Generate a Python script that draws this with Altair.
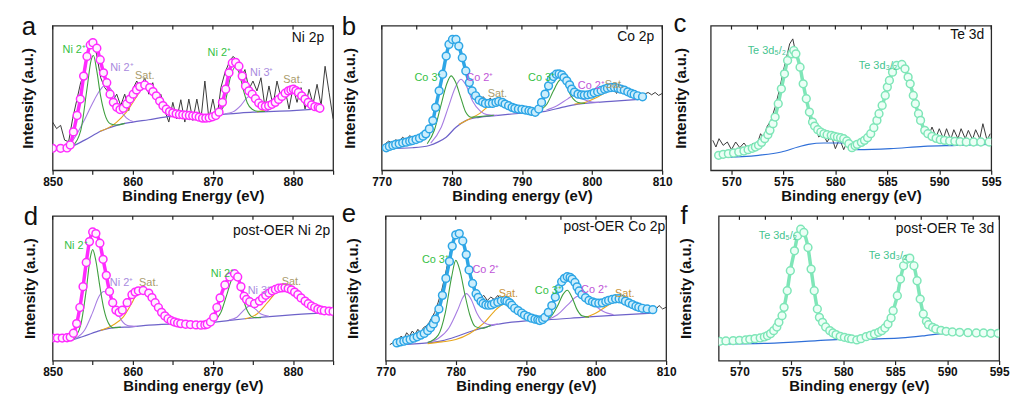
import altair as alt
import pandas as pd

FONT = "Liberation Sans"
W, H = 283, 146

NI_TICKS = [850, 855, 860, 865, 870, 875, 880, 885]
CO_TICKS = [770, 775, 780, 785, 790, 795, 800, 805, 810]
TE_TICKS = [570, 572.5, 575, 577.5, 580, 582.5, 585, 587.5, 590, 592.5, 595]

# ---------------- (a) Ni 2p ----------------
A_FIT_E = [850.0, 851.0, 851.8, 852.2, 852.6, 853.05, 853.46, 853.87, 854.29, 854.7, 855.03, 855.52, 855.94, 856.35, 856.76,
           857.17, 857.58, 858.0, 858.41, 858.82, 859.23, 859.65, 860.06, 860.47, 860.88, 861.5, 862.12, 862.53, 862.94, 863.36,
           863.77, 864.18, 864.59, 865.0, 865.42, 865.83, 866.24, 866.65, 867.07, 867.48, 867.89, 868.3, 868.71, 869.12, 869.54,
           869.95, 870.36, 870.77, 871.19, 871.6, 872.01, 872.42, 872.84, 873.25, 873.66, 874.07, 874.49, 874.9, 875.31, 875.72,
           876.13, 876.55, 876.96, 877.37, 877.78, 878.2, 878.61, 879.02, 879.43, 879.74, 880.05, 880.36, 880.67, 881.08, 881.49,
           881.9, 882.32, 882.73, 883.14, 883.35]
A_FIT_I = [67, 67, 68, 77, 117, 167, 217, 287, 347, 382, 389, 372, 337, 297, 267,
           232, 207, 192, 185, 189, 202, 217, 232, 245, 255, 260, 252, 240, 227, 211,
           197, 186, 179, 175, 172, 170, 169, 168, 167, 166, 165, 162, 159, 159, 160,
           163, 167, 177, 207, 247, 297, 327, 329, 317, 287, 257, 242, 232, 218, 205,
           197, 195, 197, 201, 207, 216, 225, 235, 242, 245, 247, 243, 237, 227, 217,
           207, 199, 194, 192, 189]
A_RAW_E = [850, 850.5, 851, 851.5, 852, 852.5, 853, 853.5, 854, 854.5, 855, 855.5, 856, 856.5, 857, 857.5, 858, 858.5,
           859, 859.5, 860, 860.5, 861, 861.5, 862, 862.5, 863, 863.5, 864, 864.5, 865, 865.5, 866, 866.5, 867, 867.5,
           868, 868.5, 869, 869.5, 870, 870.5, 871, 871.5, 872, 872.5, 873, 873.5, 874, 874.5, 875, 875.5, 876, 876.5,
           877, 877.5, 878, 878.5, 879, 879.5, 880, 880.5, 881, 881.5, 882, 882.5, 883, 883.5, 884, 884.5, 885]
A_RAW_I = [147, 127, 137, 92, 87, 157, 212, 267, 297, 367, 402, 352, 282, 252, 237, 212, 232, 197,
           232, 182, 247, 272, 252, 282, 232, 267, 207, 232, 182, 147, 207, 157, 215, 147, 217, 152,
           217, 152, 272, 157, 217, 157, 252, 297, 327, 347, 337, 282, 307, 247, 272, 242, 282, 192,
           257, 197, 272, 222, 247, 187, 252, 207, 252, 187, 247, 202, 262, 197, 317, 237, 157]
A_BASE_E = [850, 852, 854, 856, 858, 860, 862, 864, 866, 868, 870, 872, 875, 880, 883.3]
A_BASE_I = [62, 69, 92, 119, 137, 147, 154, 162, 167, 167, 169, 172, 177, 182, 187]
A_NI2A_E = [851.5, 852.5, 853.5, 854.3, 854.8, 855.1, 855.5, 856.0, 856.5, 857.2, 858.0, 859.0]
A_NI2A_I = [66, 75, 120, 250, 335, 350, 305, 225, 172, 142, 138, 143]
A_NI2B_E = [851.4, 852.5, 853.9, 855.0, 855.8, 856.5, 857.0, 857.6, 858.4, 859.2, 860.1]
A_NI2B_I = [66, 90, 150, 205, 240, 258, 255, 232, 185, 160, 148]
A_SAT1_E = [855.9, 857.0, 858.0, 859.2, 860.5, 861.5, 862.5, 863.4, 864.2, 865.4]
A_SAT1_I = [119, 130, 147, 177, 225, 258, 245, 207, 175, 166]
A_NI2C_E = [869.5, 870.5, 871.5, 872.2, 872.8, 873.3, 873.8, 874.3, 874.9, 875.6, 876.5]
A_NI2C_I = [168, 172, 205, 285, 315, 295, 245, 205, 186, 180, 179]
A_NI3_E = [871.5, 872.5, 873.5, 874.3, 874.8, 875.4, 876.2, 877.0]
A_NI3_I = [172, 178, 198, 222, 228, 216, 192, 181]
A_SAT2_E = [875.5, 877.0, 878.5, 879.5, 880.1, 880.8, 881.8, 883.0, 883.3]
A_SAT2_I = [178, 190, 222, 243, 247, 236, 210, 194, 190]

# ---------------- (b) Co 2p ----------------
B_FIT_E = [770.66, 771.1, 771.6, 772.0, 772.5, 773.0, 773.5, 774.0, 774.4, 774.9, 775.4, 775.9, 776.3, 776.8, 777.3,
           777.7, 778.2, 778.7, 779.2, 779.6, 780.1, 780.6, 781.0, 781.5, 782.0, 782.5, 782.9, 783.4, 783.9, 784.4,
           784.8, 785.3, 785.8, 786.3, 786.7, 787.2, 787.6, 788.1, 788.6, 789.0, 789.5, 790.0, 790.5, 791.0, 791.4,
           791.9, 792.4, 792.8, 793.3, 793.8, 794.2, 794.5, 794.9, 795.3, 795.7, 796.0, 796.4, 796.8, 797.1, 797.5,
           798.0, 798.5, 798.9, 799.4, 799.9, 800.3, 800.8, 801.3, 801.8, 802.2, 802.7, 803.2, 803.7, 804.1, 804.6,
           805.1, 805.6, 806.0, 806.5, 807.2]
B_FIT_I = [68, 72, 75, 78, 80, 83, 85, 88, 90, 93, 97, 103, 110, 125, 150,
           190, 240, 290, 345, 380, 395, 395, 375, 340, 300, 265, 240, 225, 212, 206,
           202, 202, 202, 205, 208, 205, 200, 195, 190, 187, 185, 184, 182, 180, 178,
           175, 185, 205, 230, 255, 275, 283, 290, 291, 288, 280, 270, 258, 245, 236,
           230, 228, 227, 228, 230, 234, 237, 241, 245, 248, 250, 250, 248, 245, 242,
           237, 232, 229, 225, 222]
B_RAW_E = [770.5, 771, 771.5, 772, 772.5, 773, 773.5, 774, 774.5, 775, 775.5, 776, 776.5, 777, 777.5, 778, 778.5, 779,
           779.5, 780, 780.5, 781, 781.5, 782, 782.5, 783, 783.5, 784, 784.5, 785, 785.5, 786, 786.5, 787, 787.5, 788,
           788.5, 789, 789.5, 790, 790.5, 791, 791.5, 792, 792.5, 793, 793.5, 794, 794.5, 795, 795.5, 796, 796.5, 797,
           797.5, 798, 798.5, 799, 799.5, 800, 800.5, 801, 801.5, 802, 802.5, 803, 803.5, 804, 804.5, 805, 805.5, 806,
           806.5, 807, 807.5, 808, 808.5, 809, 809.5, 810]
B_RAW_I = [80, 88, 82, 92, 88, 100, 90, 105, 95, 102, 95, 112, 120, 140, 170, 220, 270, 325,
           370, 390, 392, 375, 340, 300, 265, 240, 225, 215, 222, 208, 218, 202, 212, 200, 190, 195,
           185, 195, 182, 190, 178, 185, 175, 182, 190, 210, 235, 260, 280, 292, 295, 285, 270, 250,
           240, 232, 230, 228, 233, 230, 236, 240, 238, 245, 250, 250, 232, 248, 244, 240, 234, 232,
           228, 225, 230, 235, 228, 235, 226, 232]
B_BASE_E = [770.7, 774.4, 776.8, 778.0, 779.2, 780.6, 782.0, 783.9, 786.2, 788.6, 791.4, 793.3, 795.7, 798.0, 802.7, 807.2]
B_BASE_I = [65, 68, 75, 85, 100, 130, 150, 160, 165, 170, 175, 178, 190, 200, 208, 215]
B_CO3A_E = [776.5, 777.5, 778.5, 779.3, 779.9, 780.5, 781.3, 782.0, 782.8, 784.0, 786.0]
B_CO3A_I = [80, 120, 200, 262, 285, 268, 218, 175, 160, 162, 166]
B_CO2A_E = [777.0, 778.5, 779.5, 780.5, 781.3, 782.0, 783.0, 784.0, 785.0, 786.5]
B_CO2A_I = [82, 130, 190, 250, 275, 258, 208, 180, 168, 166]
B_SAT1_E = [781.0, 782.5, 784.0, 785.5, 786.7, 788.0, 789.5, 791.0]
B_SAT1_I = [138, 155, 172, 198, 210, 196, 182, 176]
B_CO3B_E = [792.0, 793.5, 794.5, 795.2, 795.6, 796.2, 797.0, 798.0, 799.0]
B_CO3B_I = [177, 198, 240, 268, 275, 260, 225, 205, 202]
B_CO2B_E = [793.5, 795.0, 796.5, 797.3, 798.0, 799.0, 800.0, 801.0]
B_CO2B_I = [182, 195, 215, 225, 222, 212, 206, 205]
B_SAT2_E = [797.5, 799.0, 800.5, 802.0, 803.2, 804.5, 806.0, 807.2]
B_SAT2_I = [200, 205, 218, 236, 246, 240, 230, 222]

# ---------------- (c) Te 3d ----------------
C_FIT_E = [568.76, 569.2, 569.7, 570.2, 570.7, 571.2, 571.6, 572.0, 572.3, 572.6, 572.9, 573.2, 573.5, 573.7, 574.0,
           574.2, 574.5, 574.8, 575.1, 575.4, 575.8, 576.0, 576.2, 576.6, 576.9, 577.2, 577.5, 577.8, 578.0, 578.3,
           578.6, 578.9, 579.2, 579.6, 579.9, 580.2, 580.5, 580.8, 581.1, 581.3, 581.6, 581.9, 582.1, 582.5, 582.8,
           583.1, 583.4, 583.7, 584.0, 584.2, 584.5, 584.8, 585.0, 585.2, 585.5, 585.9, 586.4, 586.7, 587.0, 587.2,
           587.5, 587.7, 588.0, 588.2, 588.6, 588.9, 589.3, 589.7, 590.1, 590.5, 591.0, 591.5, 592.0, 592.6, 593.3,
           594.0, 594.8]
C_FIT_I = [45, 48, 50, 52, 55, 58, 62, 66, 70, 75, 84, 95, 107, 120, 140,
           160, 200, 245, 290, 330, 350, 360, 350, 310, 260, 215, 175, 145, 133, 122,
           115, 110, 107, 105, 102, 100, 98, 95, 88, 80, 68, 74, 78, 84, 90,
           98, 110, 128, 150, 170, 195, 225, 250, 270, 295, 315, 318, 305, 280, 260,
           225, 200, 170, 150, 120, 110, 102, 96, 92, 90, 88, 87, 86, 85, 85,
           85, 85]
C_RAW_E = [568.2, 568.5, 568.8, 569.2, 569.6, 570.0, 570.4, 570.8, 571.2, 571.6, 572.0, 572.4, 572.8, 573.1, 573.4,
           573.8, 574.2, 574.6, 575.0, 575.3, 575.6, 575.9, 576.1, 576.4, 576.8, 577.2, 577.6, 578.0, 578.4, 578.8,
           579.2, 579.6, 580.0, 580.4, 580.8, 581.2, 581.6, 582.0, 582.5, 583.0, 583.5, 584.0, 584.5, 585.0, 585.5,
           586.0, 586.5, 587.0, 587.5, 588.0, 588.3, 588.6, 589.0, 589.3, 589.7, 590.0, 590.4, 590.7, 591.1, 591.4,
           591.8, 592.1, 592.5, 592.8, 593.2, 593.5, 593.9, 594.2, 594.6, 594.9]
C_RAW_I = [90, 70, 95, 75, 85, 62, 85, 68, 82, 65, 80, 72, 110, 95, 130,
           150, 190, 240, 300, 340, 380, 395, 365, 330, 280, 220, 140, 140, 100, 110,
           85, 105, 65, 95, 62, 90, 65, 80, 88, 95, 115, 155, 195, 250, 295,
           315, 320, 290, 225, 155, 150, 120, 105, 130, 100, 125, 95, 125, 92, 122,
           95, 125, 95, 120, 92, 122, 95, 140, 90, 110]
C_BASE_E = [568.8, 572.6, 574.8, 576.4, 577.4, 578.9, 581.2, 581.5, 582.1, 585.3, 588.5, 591.7, 594.8]
C_BASE_I = [38, 45, 55, 70, 78, 82, 82, 65, 62, 65, 72, 75, 78]

# ---------------- (d) post-OER Ni 2p ----------------
D_FIT_E = [850.0, 850.6, 851.2, 851.8, 852.2, 852.6, 853.0, 853.4, 853.8, 854.2, 854.6, 855.0, 855.4, 855.9, 856.3,
           856.7, 857.1, 857.5, 857.9, 858.3, 858.7, 859.3, 859.9, 860.3, 860.7, 861.3, 862.0, 862.4, 862.8, 863.2,
           863.6, 864.0, 864.4, 864.8, 865.2, 865.6, 866.0, 866.6, 867.2, 867.9, 868.5, 869.0, 869.3, 869.7, 870.1,
           870.5, 870.9, 871.5, 872.1, 872.7, 873.1, 873.5, 873.9, 874.2, 874.6, 875.2, 875.8, 876.2, 876.6, 877.0,
           877.4, 877.8, 878.2, 878.6, 879.0, 879.4, 879.8, 880.2, 880.6, 881.0, 881.5, 881.9, 882.3, 882.7, 883.1,
           883.5, 883.9, 884.5, 885.0]
D_FIT_I = [70, 70, 70, 71, 73, 85, 115, 165, 230, 305, 370, 400, 395, 365, 315,
           265, 215, 180, 157, 150, 157, 180, 205, 213, 217, 218, 210, 196, 180, 165,
           150, 139, 130, 124, 120, 117, 115, 113, 112, 111, 110, 111, 113, 120, 135,
           165, 195, 235, 260, 270, 260, 230, 200, 190, 183, 177, 185, 194, 203, 210,
           217, 221, 225, 226, 227, 224, 220, 213, 205, 195, 185, 177, 170, 165, 160,
           157, 155, 154, 153]
D_RAW_E = A_RAW_E
D_RAW_I = [70, 71, 72, 71, 74, 82, 118, 180, 270, 355, 398, 390, 350, 290, 225, 180, 155, 152,
           168, 195, 210, 225, 220, 216, 208, 190, 172, 150, 140, 138, 125, 130, 118, 125, 112, 118,
           108, 114, 105, 118, 130, 168, 200, 238, 258, 268, 262, 232, 200, 185, 178, 180, 190, 203,
           212, 218, 224, 228, 226, 222, 215, 206, 196, 188, 175, 170, 160, 162, 154, 155, 152]
D_BASE_E = [850, 851.8, 853.8, 855.9, 857.9, 859.9, 862, 866, 869.3, 872.1, 876.2, 880.2, 885]
D_BASE_I = [60, 62, 75, 93, 103, 105, 110, 115, 117, 125, 135, 143, 150]
D_NI2A_E = [852.5, 853.5, 854.2, 854.7, 855.0, 855.4, 855.9, 856.4, 857.0, 857.6, 858.5]
D_NI2A_I = [63, 110, 220, 320, 345, 310, 230, 160, 115, 102, 104]
D_NI2B_E = [852.8, 854.0, 855.0, 855.8, 856.4, 857.0, 857.8, 858.6, 859.5, 860.5]
D_NI2B_I = [68, 95, 150, 200, 215, 205, 165, 125, 108, 106]
D_SAT1_E = [856.0, 857.5, 858.8, 859.8, 860.6, 861.3, 862.0, 863.0, 864.0, 865.0, 866.0]
D_SAT1_I = [94, 110, 135, 175, 210, 218, 208, 170, 135, 118, 115]
D_NI2C_E = [870.0, 871.0, 871.8, 872.4, 872.8, 873.3, 873.8, 874.4, 875.0, 876.0]
D_NI2C_I = [120, 150, 210, 255, 262, 240, 190, 150, 135, 133]
D_NI3_E = [872.0, 873.0, 874.0, 874.6, 875.3, 876.0, 877.0]
D_NI3_I = [126, 135, 160, 170, 160, 145, 138]
D_SAT2_E = [874.0, 875.5, 876.8, 878.0, 879.2, 880.2, 881.5, 883.0, 885.0]
D_SAT2_I = [130, 145, 180, 215, 227, 215, 185, 162, 153]

# ---------------- (e) post-OER Co 2p ----------------
E_FIT_E = [771.6, 772.1, 772.6, 773.0, 773.5, 774.0, 774.5, 775.0, 775.5, 776.0, 776.4, 776.8, 777.1, 777.6, 778.1,
           778.6, 779.1, 779.5, 780.0, 780.5, 781.0, 781.5, 781.9, 782.4, 782.9, 783.2, 783.6, 783.9, 784.3, 784.7,
           785.1, 785.5, 786.0, 786.5, 787.0, 787.3, 787.7, 788.0, 788.4, 788.9, 789.4, 789.8, 790.3, 790.8, 791.3,
           791.7, 792.0, 792.4, 792.7, 793.2, 793.7, 794.2, 794.7, 795.1, 795.5, 795.9, 796.3, 796.6, 797.0, 797.3,
           797.6, 798.0, 798.5, 799.0, 799.5, 799.9, 800.4, 800.9, 801.4, 801.8, 802.3, 802.8, 803.3, 803.8, 804.2,
           804.7, 805.2, 805.7, 806.1, 806.6, 807.3, 808.1]
E_FIT_I = [52, 55, 57, 60, 62, 66, 70, 75, 80, 88, 97, 108, 122, 152, 192,
           242, 292, 337, 370, 374, 352, 312, 267, 227, 197, 186, 174, 168, 164, 163,
           164, 168, 172, 176, 177, 175, 170, 163, 154, 147, 140, 134, 129, 125, 122,
           120, 118, 121, 127, 142, 162, 187, 212, 232, 242, 247, 245, 240, 230, 217,
           205, 194, 185, 177, 173, 170, 169, 170, 174, 177, 180, 182, 182, 180, 175,
           170, 165, 160, 157, 154, 152, 150]
E_RAW_E = [770.6, 771.0, 771.4, 771.8, 772.2, 772.6, 773.0, 773.4, 773.8, 774.2, 774.6, 775.0, 775.4, 775.8, 776.2,
           776.6, 777.0, 777.5, 778.0, 778.5, 779.0, 779.5, 780.0, 780.5, 781.0, 781.5, 782.0, 782.5, 783.0, 783.5,
           784.0, 784.5, 785.0, 785.5, 786.0, 786.5, 787.0, 787.5, 788.0, 788.5, 789.0, 790.0, 791.0, 792.0, 792.5,
           793.0, 793.5, 794.0, 794.5, 795.0, 795.5, 796.0, 796.5, 797.0, 797.5, 798.0, 799.0, 800.0, 801.0, 801.5,
           802.0, 802.5, 803.0, 803.5, 804.0, 805.0, 806.0, 807.0, 808.0, 808.5, 809.0, 809.5, 810.0]
E_RAW_I = [47, 52, 54, 60, 72, 64, 82, 72, 87, 77, 92, 82, 97, 102, 112,
           127, 142, 172, 207, 252, 302, 342, 372, 377, 352, 312, 262, 232, 194, 182,
           192, 177, 187, 180, 192, 174, 182, 164, 167, 150, 144, 132, 124, 114, 120,
           137, 157, 177, 204, 224, 242, 250, 242, 227, 207, 192, 177, 170, 177, 170,
           184, 177, 192, 174, 187, 170, 160, 152, 157, 150, 162, 152, 157]
E_BASE_E = [771.6, 776.0, 778.0, 780.0, 782.0, 784.0, 786.0, 788.0, 790.0, 793.0, 798.0, 803.0, 808.1]
E_BASE_I = [47, 52, 58, 70, 85, 97, 107, 113, 117, 120, 127, 134, 140]
E_CO3A_E = [776.0, 777.5, 778.5, 779.4, 780.0, 780.6, 781.3, 782.0, 782.8, 783.8, 785.0]
E_CO3A_I = [53, 75, 140, 245, 295, 265, 195, 135, 100, 95, 104]
E_CO2A_E = [776.0, 777.5, 779.0, 780.3, 781.0, 781.5, 782.2, 783.0, 784.0, 785.0, 786.0]
E_CO2A_I = [54, 65, 95, 150, 185, 197, 180, 140, 112, 105, 108]
E_SAT1_E = [776.0, 778.0, 780.0, 782.0, 784.0, 785.5, 786.5, 787.2, 788.0, 789.0, 790.3, 791.5]
E_SAT1_I = [50, 55, 62, 80, 110, 145, 163, 167, 155, 135, 120, 118]
E_CO3B_E = [792.5, 793.5, 794.5, 795.3, 795.9, 796.6, 797.3, 798.0, 799.0]
E_CO3B_I = [120, 128, 160, 195, 207, 185, 150, 132, 128]
E_CO2B_E = [793.0, 794.5, 796.0, 797.2, 798.0, 799.0, 800.0, 801.0, 802.5]
E_CO2B_I = [120, 135, 165, 188, 192, 180, 160, 145, 135]
E_SAT2_E = [798.5, 800.0, 801.5, 802.8, 803.6, 804.5, 806.0, 808.0]
E_SAT2_I = [127, 140, 160, 175, 180, 175, 160, 150]

# ---------------- (f) post-OER Te 3d ----------------
F_FIT_E = [568.1, 568.7, 569.4, 570.0, 570.6, 571.0, 571.5, 572.0, 572.4, 572.7, 573.0, 573.3, 573.6, 573.8, 574.1,
           574.3, 574.6, 574.9, 575.3, 575.6, 575.9, 576.2, 576.6, 576.9, 577.2, 577.5, 577.7, 578.0, 578.3, 578.7,
           579.0, 579.3, 579.7, 580.1, 580.5, 580.8, 581.3, 581.7, 582.2, 582.6, 583.0, 583.4, 583.7, 584.0, 584.3,
           584.6, 584.8, 585.2, 585.5, 585.8, 586.1, 586.4, 586.8, 587.1, 587.4, 587.7, 588.0, 588.2, 588.6, 588.9,
           589.4, 589.9, 590.5, 591.2, 592.0, 592.8, 593.5, 594.2, 594.9]
F_FIT_I = [58, 59, 60, 61, 62, 64, 66, 68, 71, 75, 81, 90, 101, 115, 135,
           160, 210, 270, 330, 375, 395, 385, 340, 275, 210, 155, 130, 115, 101, 90,
           83, 78, 73, 70, 67, 65, 62, 66, 72, 76, 80, 85, 90, 98, 110,
           128, 150, 195, 245, 285, 305, 308, 285, 240, 185, 140, 118, 108, 100, 95,
           91, 88, 86, 85, 84, 83, 83, 82, 82]
F_RAW_E = [568, 569, 570, 571, 572, 573, 573.5, 574, 574.5, 575, 575.5, 575.8, 576.1, 576.5, 577, 577.5, 578, 578.5,
           579, 579.5, 580, 580.5, 581, 581.3, 581.6, 581.9, 582.2, 582.5, 583, 583.5, 584, 584.5, 585, 585.5, 586,
           586.5, 587, 587.5, 588, 588.5, 589, 590, 591, 592, 593, 594, 595]
F_RAW_I = [56, 58, 60, 63, 68, 82, 100, 135, 195, 285, 360, 395, 390, 355, 250, 150, 112, 92,
           82, 75, 70, 66, 62, 55, 75, 62, 72, 74, 80, 86, 100, 128, 175, 250, 300,
           305, 255, 170, 118, 100, 92, 88, 86, 85, 84, 83, 82]
F_BASE_E = [568.1, 572.7, 577.5, 580.1, 581.4, 581.7, 582.1, 585.6, 587.9, 589.9, 594.9]
F_BASE_I = [50, 52, 60, 65, 70, 60, 63, 68, 75, 82, 84]

# ---------------- styles ----------------
GREEN = "#3f9f3f"
PURPLE = "#a77de2"
ORANGE = "#e8a61c"
BASE_NICO = "#6d62c9"
BASE_TE = "#2f6fd8"
RAW = "#3a3a3a"
LBL_GREEN = "#35bf45"
LBL_NIPURP = "#a98ade"
LBL_COPURP = "#c055d8"
LBL_SAT = "#a99b6b"
LBL_SAT_E = "#c99338"
LBL_TE = "#45c490"


def dfr(e, i):
    return pd.DataFrame({"E": e, "I": i})


def panel(xdom, ydom, ticks, lab_step, xtitle, raw, base, base_color, comps, fit, fit_stroke, fit_fill,
          labels, inset, inset_xy, letter, letter_xy, ytp):
    xs = alt.Scale(domain=xdom, nice=False, zero=False)
    ys = alt.Scale(domain=ydom, nice=False, zero=False)
    xaxis = alt.Axis(values=ticks, labelExpr=f"datum.value % {lab_step} === 0 ? datum.label : ''",
                     title=xtitle, tickSize=4, tickWidth=1.2, tickColor="#222", labelPadding=2, titlePadding=1,
                     labelFontSize=12, labelFontWeight="bold", titleFontSize=15, titleFontWeight="bold",
                     labelFont=FONT, titleFont=FONT, labelColor="#111", titleColor="#111",
                     domain=False, grid=False, labelFlush=False)
    yaxis = alt.Axis(title="Intensity (a.u.)", labels=False, ticks=False, domain=False, grid=False,
                     titlePadding=ytp, titleFontSize=15, titleFontWeight="bold", titleFont=FONT,
                     titleColor="#111")

    def enc():
        return dict(x=alt.X("E:Q", scale=xs), y=alt.Y("I:Q", scale=ys))

    layers = [
        alt.Chart(dfr(*raw)).mark_line(color=RAW, strokeWidth=1, clip=True).encode(
            x=alt.X("E:Q", scale=xs, axis=xaxis), y=alt.Y("I:Q", scale=ys, axis=yaxis)),
        alt.Chart(pd.DataFrame({"E": ticks})).mark_rule(color="#222", strokeWidth=1.2).encode(
            x=alt.X("E:Q", scale=xs), y=alt.value(0), y2=alt.value(4)),
        alt.Chart(dfr(*base)).mark_line(color=base_color, strokeWidth=1.2, interpolate="monotone",
                                        clip=True).encode(**enc()),
    ]
    for e, i, c in comps:
        layers.append(alt.Chart(dfr(e, i)).mark_line(color=c, strokeWidth=1.1, interpolate="monotone",
                                                     clip=True).encode(**enc()))
    layers.append(alt.Chart(dfr(*fit)).mark_line(color=fit_stroke, strokeWidth=3.5, interpolate="monotone",
                                                 clip=True).encode(**enc()))
    layers.append(alt.Chart(dfr(*fit)).mark_point(shape="circle", filled=True, fill=fit_fill, stroke=fit_stroke,
                                                  strokeWidth=1.5, size=62, opacity=1, clip=True).encode(**enc()))
    lab_df = pd.DataFrame(labels, columns=["t", "E", "I", "c"])
    layers.append(alt.Chart(lab_df).mark_text(font=FONT, fontSize=11).encode(
        x=alt.X("E:Q", scale=xs), y=alt.Y("I:Q", scale=ys), text="t:N",
        color=alt.Color("c:N", scale=None)))
    layers.append(alt.Chart(pd.DataFrame({"t": [inset]})).mark_text(
        font=FONT, fontSize=14, align="right", baseline="middle", color="#111").encode(
        x=alt.value(inset_xy[0]), y=alt.value(inset_xy[1]), text="t:N"))
    layers.append(alt.Chart(pd.DataFrame({"t": [letter]})).mark_text(
        font=FONT, fontSize=26, align="center", baseline="alphabetic", color="#111").encode(
        x=alt.value(letter_xy[0]), y=alt.value(letter_xy[1]), text="t:N"))
    return alt.layer(*layers).properties(width=W, height=H)


pa = panel([850, 885], [0, 441], NI_TICKS, 10, "Binding Energy (eV)",
           (A_RAW_E, A_RAW_I), (A_BASE_E, A_BASE_I), BASE_NICO,
           [(A_SAT1_E, A_SAT1_I, ORANGE), (A_SAT2_E, A_SAT2_I, ORANGE),
            (A_NI2B_E, A_NI2B_I, PURPLE), (A_NI3_E, A_NI3_I, PURPLE),
            (A_NI2A_E, A_NI2A_I, GREEN), (A_NI2C_E, A_NI2C_I, GREEN)],
           (A_FIT_E, A_FIT_I), "#ff2bff", "#fff0ff",
           [("Ni 2⁺", 852.7, 366, LBL_GREEN), ("Ni 2⁺", 858.65, 312, LBL_NIPURP), ("Sat.", 861.5, 288, LBL_SAT),
            ("Ni 2⁺", 870.8, 357, LBL_GREEN), ("Ni 3⁺", 876.1, 297, LBL_NIPURP), ("Sat.", 880.0, 276, LBL_SAT)],
           "Ni 2p", (W - 9, 13), "a", (-24, 10), 17)

pb = panel([770, 810], [0, 437], CO_TICKS, 10, "Binding energy (eV)",
           (B_RAW_E, B_RAW_I), (B_BASE_E, B_BASE_I), BASE_NICO,
           [(B_SAT1_E, B_SAT1_I, ORANGE), (B_SAT2_E, B_SAT2_I, ORANGE),
            (B_CO2A_E, B_CO2A_I, PURPLE), (B_CO2B_E, B_CO2B_I, PURPLE),
            (B_CO3A_E, B_CO3A_I, GREEN), (B_CO3B_E, B_CO3B_I, GREEN)],
           (B_FIT_E, B_FIT_I), "#2ea6e6", "#cdeefc",
           [("Co 3⁺", 776.6, 280, LBL_GREEN), ("Co 2⁺", 784.0, 280, LBL_COPURP), ("Sat.", 786.5, 230, LBL_SAT),
            ("Co 3⁺", 792.8, 280, LBL_GREEN), ("Co 2⁺", 799.9, 255, LBL_COPURP), ("Sat.", 803.2, 258, LBL_SAT)],
           "Co 2p", (W - 8, 12), "b", (-33, 9), 24)

pc = panel([568, 595], [0, 435], TE_TICKS, 5, "Binding energy (eV)",
           (C_RAW_E, C_RAW_I), (C_BASE_E, C_BASE_I), BASE_TE, [],
           (C_FIT_E, C_FIT_I), "#7fe6b8", "#ecfff6",
           [("Te 3d₅/₂", 573.4, 360, LBL_TE), ("Te 3d₃/₂", 584.1, 312, LBL_TE)],
           "Te 3d", (W - 7, 10), "c", (-31, 6), 22)

pd_ = panel([850, 885], [0, 450], NI_TICKS, 10, "Binding energy (eV)",
            (D_RAW_E, D_RAW_I), (D_BASE_E, D_BASE_I), BASE_NICO,
            [(D_SAT1_E, D_SAT1_I, ORANGE), (D_SAT2_E, D_SAT2_I, ORANGE),
             (D_NI2B_E, D_NI2B_I, PURPLE), (D_NI3_E, D_NI3_I, PURPLE),
             (D_NI2A_E, D_NI2A_I, GREEN), (D_NI2C_E, D_NI2C_I, GREEN)],
            (D_FIT_E, D_FIT_I), "#ff2bff", "#fff0ff",
            [("Ni 2⁺", 852.9, 355, LBL_GREEN), ("Ni 2⁺", 858.6, 240, LBL_NIPURP), ("Sat.", 862.0, 240, LBL_SAT),
             ("Ni 2⁺", 871.2, 270, LBL_GREEN), ("Ni 3⁺", 875.8, 215, LBL_NIPURP), ("Sat.", 879.8, 245, LBL_SAT)],
            "post-OER Ni 2p", (W - 3, 15), "d", (-22, 9), 15)

pe = panel([770, 810], [0, 426], CO_TICKS, 10, "Binding energy (eV)",
           (E_RAW_E, E_RAW_I), (E_BASE_E, E_BASE_I), BASE_NICO,
           [(E_SAT1_E, E_SAT1_I, ORANGE), (E_SAT2_E, E_SAT2_I, ORANGE),
            (E_CO2A_E, E_CO2A_I, PURPLE), (E_CO2B_E, E_CO2B_I, PURPLE),
            (E_CO3A_E, E_CO3A_I, GREEN), (E_CO3B_E, E_CO3B_I, GREEN)],
           (E_FIT_E, E_FIT_I), "#2ea6e6", "#cdeefc",
           [("Co 3⁺", 777.1, 297, LBL_GREEN), ("Co 2⁺", 784.3, 267, LBL_COPURP), ("Sat.", 787.5, 197, LBL_SAT_E),
            ("Co 3⁺", 793.2, 204, LBL_GREEN), ("Co 2⁺", 799.8, 207, LBL_COPURP), ("Sat.", 804.1, 197, LBL_SAT_E)],
           "post-OER Co 2p", (W - 1, 11), "e", (-37, 6), 25)

pf = panel([568, 595], [0, 435], TE_TICKS, 5, "Binding energy (eV)",
           (F_RAW_E, F_RAW_I), (F_BASE_E, F_BASE_I), BASE_TE, [],
           (F_FIT_E, F_FIT_I), "#7fe6b8", "#ecfff6",
           [("Te 3d₅/₂", 573.7, 375, LBL_TE), ("Te 3d₃/₂", 584.3, 315, LBL_TE)],
           "post-OER Te 3d", (W - 5, 13), "f", (-35, 8), 25)

row1 = alt.hconcat(pa, pb, pc, spacing=49, bounds="flush")
row2 = alt.hconcat(pd_, pe, pf, spacing=53, bounds="flush")
chart = alt.vconcat(row1, row2, spacing=-4).properties(
    padding={"left": 12, "top": 0, "right": 5, "bottom": 1}
).configure_view(stroke="#2a2a2a", strokeWidth=1.3)

chart.save("out.html", embed_options={"renderer": "svg", "actions": False})
